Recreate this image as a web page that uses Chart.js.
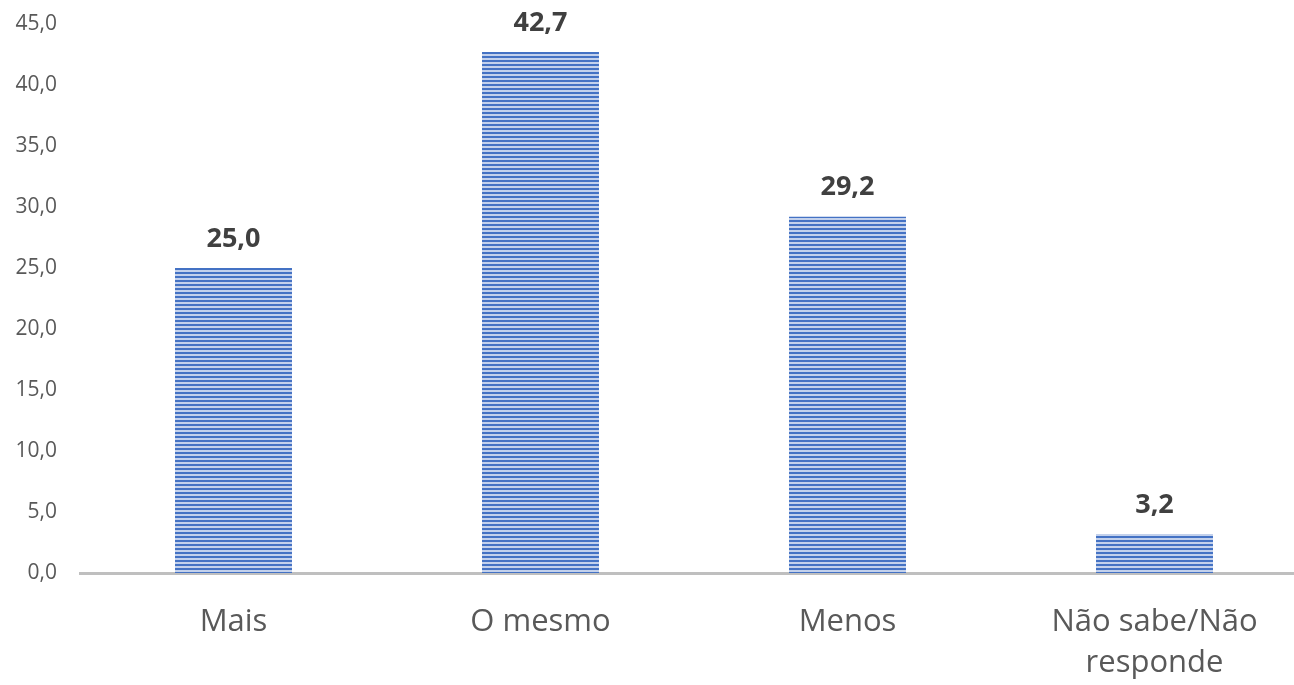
<!DOCTYPE html>
<html>
<head>
<meta charset="utf-8">
<script src="https://cdn.jsdelivr.net/npm/chart.js@4/dist/chart.umd.min.js"></script>
<style>
  html, body { margin: 0; padding: 0; background: #fff; overflow: hidden; }
  #wrap { width: 1310px; height: 685px; }
</style>
</head>
<body>
<div id="wrap"><canvas id="c" width="1310" height="685"></canvas></div>
<script>
const categories = ["Mais", "O mesmo", "Menos", ["Não sabe/Não", "responde"]];
const values = [25.0, 42.7, 29.2, 3.2];
const yTicks = [0, 5, 10, 15, 20, 25, 30, 35, 40, 45];

function fmt(v) { return v.toFixed(1).replace('.', ','); }

function makePattern() {
  const p = document.createElement('canvas');
  p.width = 4; p.height = 4;
  const g = p.getContext('2d');
  g.fillStyle = '#c3d1ec';
  g.fillRect(0, 0, 4, 4);
  g.fillStyle = '#4472c4';
  g.fillRect(0, 0, 4, 2);
  return g.createPattern(p, 'repeat');
}

const labelPlugin = {
  id: 'valueLabels',
  afterDatasetsDraw(chart) {
    const ctx = chart.ctx;
    const meta = chart.getDatasetMeta(0);
    ctx.save();
    ctx.font = 'bold 27px "Open Sans", sans-serif';
    ctx.fillStyle = '#404040';
    ctx.textAlign = 'center';
    ctx.textBaseline = 'middle';
    meta.data.forEach((bar, i) => {
      ctx.fillText(fmt(values[i]), bar.x, bar.y - 29);
    });
    ctx.restore();
  }
};

const ctx = document.getElementById('c').getContext('2d');
new Chart(ctx, {
  type: 'bar',
  data: {
    labels: categories,
    datasets: [{
      data: values,
      backgroundColor: makePattern(),
      borderWidth: 0,
      categoryPercentage: 1.0,
      barPercentage: 0.381
    }]
  },
  options: {
    responsive: false,
    animation: false,
    layout: { padding: { top: 24, left: 0, right: 2, bottom: 0 } },
    plugins: { legend: { display: false }, tooltip: { enabled: false } },
    scales: {
      x: {
        grid: { display: false, drawTicks: false },
        border: { display: true, color: '#bfbfbf', width: 3 },
        ticks: {
          color: '#595959',
          font: { family: '"Open Sans", sans-serif', size: 31, lineHeight: 1.32 },
          padding: 29,
          maxRotation: 0,
          autoSkip: false
        },
        afterFit(scale) { scale.height = 112; scale.paddingLeft = 0; scale.paddingRight = 0; }
      },
      y: {
        min: 0, max: 45,
        afterBuildTicks(scale) { scale.ticks = yTicks.map(v => ({ value: v })); },
        grid: { display: false, drawTicks: false },
        border: { display: false },
        ticks: {
          color: '#595959',
          font: { family: '"Open Sans", sans-serif', size: 21 },
          padding: 23,
          callback: v => fmt(v)
        },
        afterFit(scale) { scale.width = 80; scale.paddingTop = 0; scale.paddingBottom = 0; }
      }
    }
  },
  plugins: [labelPlugin]
});
</script>
</body>
</html>
